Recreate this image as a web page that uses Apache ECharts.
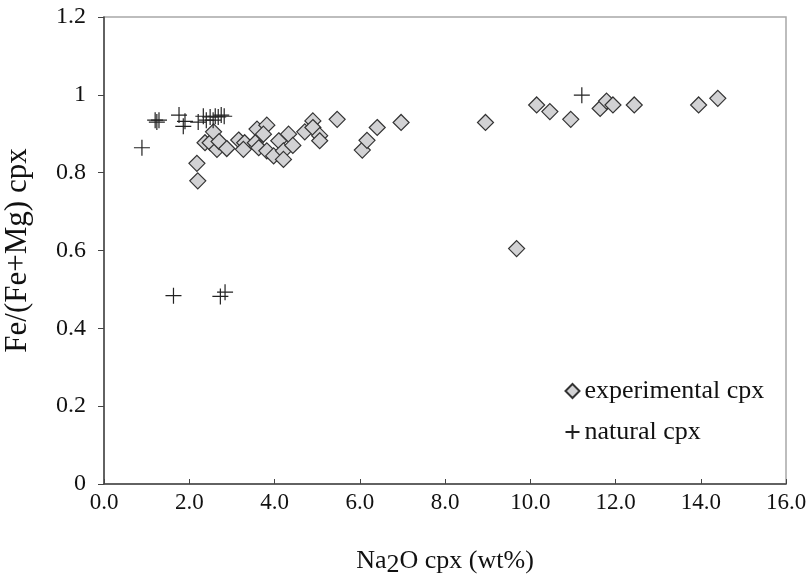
<!DOCTYPE html>
<html>
<head>
<meta charset="utf-8">
<script src="https://cdn.jsdelivr.net/npm/echarts@6/dist/echarts.min.js"></script>
<style>
  html, body { margin: 0; padding: 0; background: #fff; }
  #chart { width: 809px; height: 577px; }
</style>
</head>
<body>
<div id="chart"></div>
<script>
// Na2O cpx (wt%) vs Fe/(Fe+Mg) cpx
const expNa2O = [2.20, 2.18, 2.37, 2.49, 2.57, 2.65, 2.70, 2.88, 3.16, 3.30, 3.27, 3.59, 3.82, 3.74, 3.55, 3.63,
                 3.82, 3.98, 4.10, 4.21, 4.21, 4.33, 4.43, 4.71, 4.90, 4.90, 5.06, 5.06, 5.47, 6.06, 6.17, 6.41,
                 6.97, 8.95, 9.68, 10.15, 10.46, 10.95, 11.64, 11.79, 11.94, 12.44, 13.95, 14.40];
const expFeMg  = [0.779, 0.824, 0.877, 0.877, 0.905, 0.860, 0.880, 0.862, 0.884, 0.877, 0.860, 0.912, 0.922, 0.899, 0.877, 0.864,
                  0.856, 0.843, 0.882, 0.856, 0.834, 0.899, 0.870, 0.905, 0.933, 0.916, 0.895, 0.882, 0.937, 0.858, 0.883, 0.916,
                  0.929, 0.929, 0.605, 0.974, 0.957, 0.937, 0.965, 0.984, 0.974, 0.974, 0.974, 0.991];

const natNa2O = [0.89, 1.20, 1.24, 1.29, 1.76, 1.86, 1.90, 2.21, 2.33, 2.40, 2.49, 2.56, 2.61, 2.68, 2.75, 2.82,
                 1.63, 2.73, 2.84, 11.21];
const natFeMg  = [0.864, 0.935, 0.930, 0.935, 0.948, 0.919, 0.932, 0.930, 0.945, 0.935, 0.943, 0.935, 0.945, 0.943, 0.948, 0.945,
                  0.484, 0.482, 0.493, 0.999];

const xTicks = [0, 2, 4, 6, 8, 10, 12, 14, 16];

const FONT = '"Liberation Serif", "DejaVu Serif", serif';
const plusPath = 'path://M0,8L16,8M8,0L8,16';

const chart = echarts.init(document.getElementById('chart'));

chart.setOption({
    animation: false,
    backgroundColor: '#fff',
    textStyle: { fontFamily: FONT },
    grid: {
        left: 104, right: 23, top: 17, bottom: 93,
        outerBoundsMode: 'none',
        containLabel: false,
        show: true, borderColor: '#a8a8a8', borderWidth: 1.5
    },
    legend: {
        orient: 'vertical',
        left: 558, top: 373,
        itemGap: 15,
        itemWidth: 14, itemHeight: 14,
        textStyle: { fontFamily: FONT, fontSize: 26, color: '#111' },
        data: [
            { name: 'experimental cpx', icon: 'diamond' },
            { name: 'natural cpx', icon: plusPath }
        ]
    },
    xAxis: {
        type: 'value',
        min: xTicks[0], max: xTicks[xTicks.length - 1], interval: 2,
        name: '{a|Na}{s|2}{a|O cpx (wt%)}',
        nameLocation: 'middle',
        nameGap: 60,
        nameTextStyle: {
            rich: {
                a: { fontFamily: FONT, fontSize: 26, color: '#111' },
                s: { fontFamily: FONT, fontSize: 26, color: '#111', padding: [8, 0, 0, 0] }
            }
        },
        axisLine: { show: true, lineStyle: { color: '#444', width: 1.5 } },
        axisTick: { show: true, inside: true, length: 5, lineStyle: { color: '#444' } },
        axisLabel: { fontFamily: FONT, fontSize: 23, color: '#111', margin: 7,
                     formatter: v => v.toFixed(1) },
        splitLine: { show: false }
    },
    yAxis: {
        type: 'value',
        min: 0, max: 1.2, interval: 0.2,
        name: 'Fe/(Fe+Mg) cpx',
        nameLocation: 'middle',
        nameGap: 71,
        nameTextStyle: { fontFamily: FONT, fontSize: 31, color: '#111' },
        axisLine: { show: true, lineStyle: { color: '#444', width: 1.5 } },
        axisTick: { show: true, inside: false, length: 6, lineStyle: { color: '#444' } },
        axisLabel: { fontFamily: FONT, fontSize: 24, color: '#111', margin: 18,
                     formatter: v => String(Math.round(v * 10) / 10) },
        splitLine: { show: false }
    },
    series: [
        {
            name: 'experimental cpx',
            type: 'scatter',
            symbol: 'diamond',
            symbolSize: 16,
            itemStyle: { color: '#d2d2d4', borderColor: '#333', borderWidth: 1.2, opacity: 1 },
            data: expNa2O.map((x, i) => [x, expFeMg[i]])
        },
        {
            name: 'natural cpx',
            type: 'scatter',
            symbol: plusPath,
            symbolSize: 16,
            itemStyle: { color: 'none', borderColor: '#222', borderWidth: 1.2, opacity: 1 },
            data: natNa2O.map((x, i) => [x, natFeMg[i]])
        }
    ]
});
</script>
</body>
</html>
